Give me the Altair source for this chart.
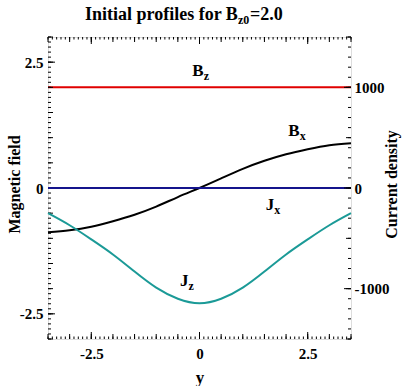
import altair as alt
import pandas as pd
import numpy as np

# ---- data ----
y_pos = [-3.5, -3.0, -2.5, -2.0, -1.5, -1.0, -0.5, 0.0, 0.5, 1.0, 1.5, 2.0, 2.5, 3.0, 3.5]
Bx = [-0.88, -0.84, -0.77, -0.66, -0.53, -0.37, -0.18, 0.0, 0.19, 0.38, 0.54, 0.67, 0.77, 0.85, 0.89]
Bz = [2.0] * 15
Jx = [0.0] * 15
Jz = [-250, -370, -510, -660, -830, -990, -1100, -1145, -1100, -990, -830, -660, -510, -370, -250]

x_ticks = [-2.5, 0, 2.5]
left_ticks = [-2.5, 0, 2.5]
right_ticks = [-1000, 0, 1000]

# curve label annotations: main letter, subscript, x, y (data units)
lab_B_main = ["B", "B"]
lab_B_sub = ["z", "x"]
lab_B_x = [-0.17, 2.05]
lab_B_y = [2.22, 1.03]
lab_J_main = ["J", "J"]
lab_J_sub = ["x", "z"]
lab_J_x = [1.53, -0.45]
lab_J_y = [-221, -975]

W, H = 303, 302
FONT = "Liberation Serif, Times New Roman, serif"

df = pd.DataFrame({"y": y_pos, "Bx": Bx, "Bz": Bz, "Jx": Jx, "Jz": Jz})

xscale = alt.Scale(domain=[-3.5, 3.5], nice=False, zero=False)
lscale = alt.Scale(domain=[-3, 3], nice=False, zero=False)
rscale = alt.Scale(domain=[-1500, 1500], nice=False, zero=False)

common_axis = dict(ticks=False, domain=False, grid=False, labelFont=FONT, labelFontWeight="bold",
                   labelFontSize=15, labelColor="black", titleFont=FONT, titleFontWeight="bold",
                   titleColor="black", labelExpr="'' + datum.value")

xaxis = alt.Axis(values=x_ticks, labelPadding=19, labelBaseline="alphabetic", title="y",
                 titleFontSize=17, titleX=W / 2, titleY=43, titleBaseline="alphabetic",
                 titleAlign="center", **common_axis)
laxis = alt.Axis(values=left_ticks, labelPadding=5, title="Magnetic field", titleFontSize=16,
                 titleX=-34, titleY=147, titleAngle=270, titleAlign="center", titleBaseline="middle",
                 **common_axis)
raxis = alt.Axis(values=right_ticks, orient="right", labelPadding=3, labelAlign="left",
                 title="Current density", titleFontSize=16, titleX=40, titleY=147, titleAngle=270,
                 titleAlign="center", titleBaseline="middle", **common_axis)


def X(f):
    return alt.X(f"{f}:Q", scale=xscale, axis=xaxis)


def YL(f):
    return alt.Y(f"{f}:Q", scale=lscale, axis=laxis)


def YR(f):
    return alt.Y(f"{f}:Q", scale=rscale, axis=raxis)


base = alt.Chart(df)
bz_line = base.mark_line(color="#e00000", strokeWidth=2).encode(x=X("y"), y=YL("Bz"))
bx_line = base.mark_line(color="black", strokeWidth=2, interpolate="natural").encode(x=X("y"), y=YL("Bx"))
jx_line = base.mark_line(color="#14148c", strokeWidth=2).encode(x=X("y"), y=YR("Jx"))
jz_line = base.mark_line(color="#1b9a97", strokeWidth=2, interpolate="natural").encode(x=X("y"), y=YR("Jz"))

bl = pd.DataFrame({"m": lab_B_main, "s": lab_B_sub, "x": lab_B_x, "y": lab_B_y})
jl = pd.DataFrame({"m": lab_J_main, "s": lab_J_sub, "x": lab_J_x, "y": lab_J_y})
b_main = alt.Chart(bl).mark_text(font=FONT, fontWeight="bold", fontSize=17, align="left",
                                 baseline="alphabetic", color="black").encode(x=X("x"), y=YL("y"), text="m:N")
b_sub = alt.Chart(bl).mark_text(font=FONT, fontWeight="bold", fontSize=12, align="left",
                                baseline="alphabetic", color="black", dx=11.5, dy=3.5).encode(x=X("x"), y=YL("y"), text="s:N")
j_main = alt.Chart(jl).mark_text(font=FONT, fontWeight="bold", fontSize=17, align="left",
                                 baseline="alphabetic", color="black").encode(x=X("x"), y=YR("y"), text="m:N")
j_sub = alt.Chart(jl).mark_text(font=FONT, fontWeight="bold", fontSize=12, align="left",
                                baseline="alphabetic", color="black", dx=8.5, dy=3.5).encode(x=X("x"), y=YR("y"), text="s:N")


def hticks(vals, length):
    d = pd.DataFrame({"t": vals})
    bot = alt.Chart(d).mark_rule(color="black", strokeWidth=1).encode(
        x=X("t"), y=alt.value(H), y2=alt.value(H - length))
    top = alt.Chart(d).mark_rule(color="black", strokeWidth=1).encode(
        x=X("t"), y=alt.value(0), y2=alt.value(length))
    return [bot, top]


def lticks(vals, length):
    d = pd.DataFrame({"t": vals})
    return [alt.Chart(d).mark_rule(color="black", strokeWidth=1).encode(
        y=YL("t"), x=alt.value(0), x2=alt.value(length))]


def rticks(vals, length):
    d = pd.DataFrame({"t": vals})
    return [alt.Chart(d).mark_rule(color="black", strokeWidth=1).encode(
        y=YR("t"), x=alt.value(W), x2=alt.value(W - length))]


xmin = [round(v, 2) for v in np.arange(-3.5, 3.51, 0.1)]
xmed = [round(v, 2) for v in np.arange(-3.5, 3.51, 0.5)]
lmin = [round(v, 2) for v in np.arange(-3.0, 3.01, 0.1)]
lmed = [round(v, 2) for v in np.arange(-3.0, 3.01, 0.5)]
rmin = list(range(-1500, 1501, 100))
rmed = list(range(-1500, 1501, 500))

tick_layers_left = hticks(xmin, 2.5) + hticks(xmed, 5) + hticks(x_ticks, 7) + \
    lticks(lmin, 3) + lticks(lmed, 5) + lticks(left_ticks, 7)
tick_layers_right = rticks(rmin, 3) + rticks(rmed, 5) + rticks(right_ticks, 7)

# title with subscript
t1 = alt.Chart(pd.DataFrame({"t": ["Initial profiles for B"]})).mark_text(
    font=FONT, fontWeight="bold", fontSize=18, align="left", baseline="alphabetic", color="black"
).encode(text="t:N", x=alt.value(37), y=alt.value(-17.5))
t2 = alt.Chart(pd.DataFrame({"t": ["z0"]})).mark_text(
    font=FONT, fontWeight="bold", fontSize=12, align="left", baseline="alphabetic", color="black"
).encode(text="t:N", x=alt.value(190), y=alt.value(-13))
t3 = alt.Chart(pd.DataFrame({"t": ["=2.0"]})).mark_text(
    font=FONT, fontWeight="bold", fontSize=18, align="left", baseline="alphabetic", color="black"
).encode(text="t:N", x=alt.value(202), y=alt.value(-17.5))

left = alt.layer(bz_line, bx_line, *tick_layers_left, b_main, b_sub, t1, t2, t3)
right = alt.layer(jx_line, jz_line, *tick_layers_right, j_main, j_sub)

chart = alt.layer(left, right).resolve_scale(y="independent").properties(
    width=W, height=H,
    autosize=alt.AutoSizeParams(type="none"),
    padding={"left": 48, "top": 37, "right": 53, "bottom": 47},
).configure_view(stroke="black", strokeWidth=1).configure(background="white")

chart.save("out.html", embed_options={"renderer": "svg", "actions": False})
